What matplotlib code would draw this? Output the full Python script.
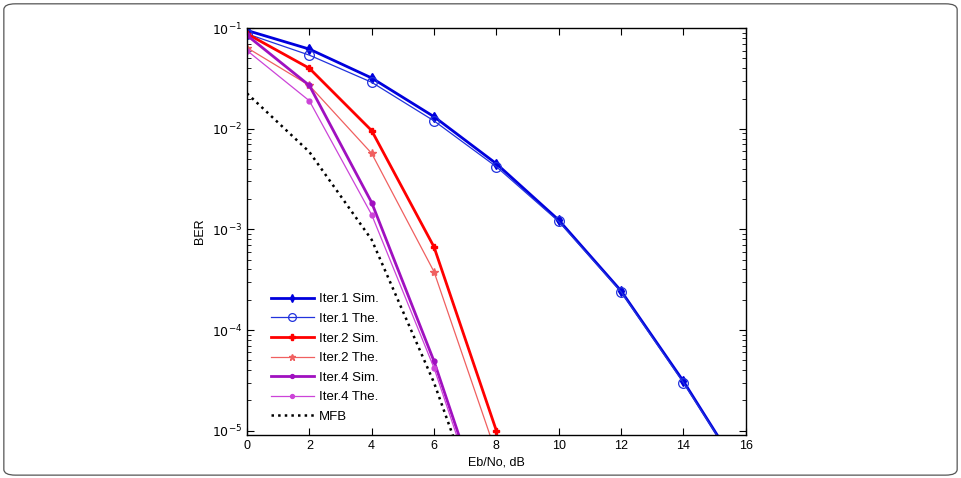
import math
import matplotlib.pyplot as plt
from matplotlib.patches import FancyBboxPatch
from matplotlib.ticker import LogLocator, NullFormatter, FuncFormatter

plt.rcParams['font.family'] = ['Liberation Sans', 'DejaVu Sans']

# Eb/No Werte
ebno = [0, 2, 4, 6, 8, 10, 12, 14, 16]
ebno_short = [0, 2, 4, 6, 8]

# BER Werte
iter1_sim = [0.095, 0.062, 0.032, 0.0132, 0.0045, 1.24e-3, 2.45e-4, 3.1e-5, 3.2e-6]
iter1_the = [0.088, 0.054, 0.029, 0.012, 0.0042, 1.2e-3, 2.4e-4, 3.0e-5, 3.2e-6]
iter2_sim = [0.088, 0.040, 0.0096, 6.7e-4, 1.0e-5]
iter2_the = [0.064, 0.027, 5.7e-3, 3.8e-4, 5.9e-6]
iter4_sim = [0.085, 0.027, 1.85e-3, 4.9e-5, 7e-7]
iter4_the = [0.060, 0.019, 1.4e-3, 4.2e-5, 6e-7]
mfb = [0.0225, 5.9e-3, 7.9e-4, 3.0e-5, 5.5e-7]

fig = plt.figure(figsize=(9.61, 4.78), dpi=100)
ax = fig.add_axes([0.257, 0.090, 0.519, 0.851])

# Rahmen um die Abbildung
fig.patches.append(FancyBboxPatch((0.004, 0.006), 0.992, 0.986, boxstyle='round,pad=0,rounding_size=0.012',
                                  transform=fig.transFigure, fill=False, edgecolor='#555555', linewidth=0.9))

ax.semilogy(ebno, iter1_sim, color='#0000dd', lw=2.0, marker='d', ms=5, label='Iter.1 Sim.')
ax.semilogy(ebno, iter1_the, color='#2233dd', lw=0.9, marker='o', ms=7, mfc='none', mew=0.9, label='Iter.1 The.')
ax.semilogy(ebno_short, iter2_sim, color='#ff0000', lw=2.0, marker='P', ms=5, label='Iter.2 Sim.')
ax.semilogy(ebno_short, iter2_the, color='#f06060', lw=0.9, marker='*', ms=6, label='Iter.2 The.')
ax.semilogy(ebno_short, iter4_sim, color='#a010c0', lw=2.0, marker='.', ms=7, label='Iter.4 Sim.')
ax.semilogy(ebno_short, iter4_the, color='#cc44d8', lw=0.9, marker='.', ms=7, label='Iter.4 The.')
ax.semilogy(ebno_short, mfb, color='black', lw=1.8, ls=':', label='MFB')

ax.set_xlim(0, 16)
ax.set_ylim(9.06e-6, 0.1)
ax.set_xticks(range(0, 17, 2))
ax.yaxis.set_major_locator(LogLocator(base=10, numticks=10))
ax.yaxis.set_minor_locator(LogLocator(base=10, subs=range(2, 10), numticks=10))
ax.yaxis.set_minor_formatter(NullFormatter())
ax.yaxis.set_major_formatter(FuncFormatter(lambda v, p: r'$10^{%d}$' % round(math.log10(v))))

ax.tick_params(which='both', direction='in', top=True, right=True, labelsize=9)
ax.tick_params(which='major', length=5)
ax.tick_params(which='minor', length=3)
for s in ax.spines.values():
    s.set_linewidth(1.0)

ax.set_xlabel('Eb/No, dB', fontsize=9, labelpad=3)
ax.set_ylabel('BER', fontsize=9, labelpad=4)

ax.legend(loc='lower left', bbox_to_anchor=(0.025, 0.0), frameon=False, fontsize=9.5,
          handlelength=3.2, labelspacing=0.56, handletextpad=0.4, markerscale=0.8)

plt.savefig('out.png', dpi=100)
